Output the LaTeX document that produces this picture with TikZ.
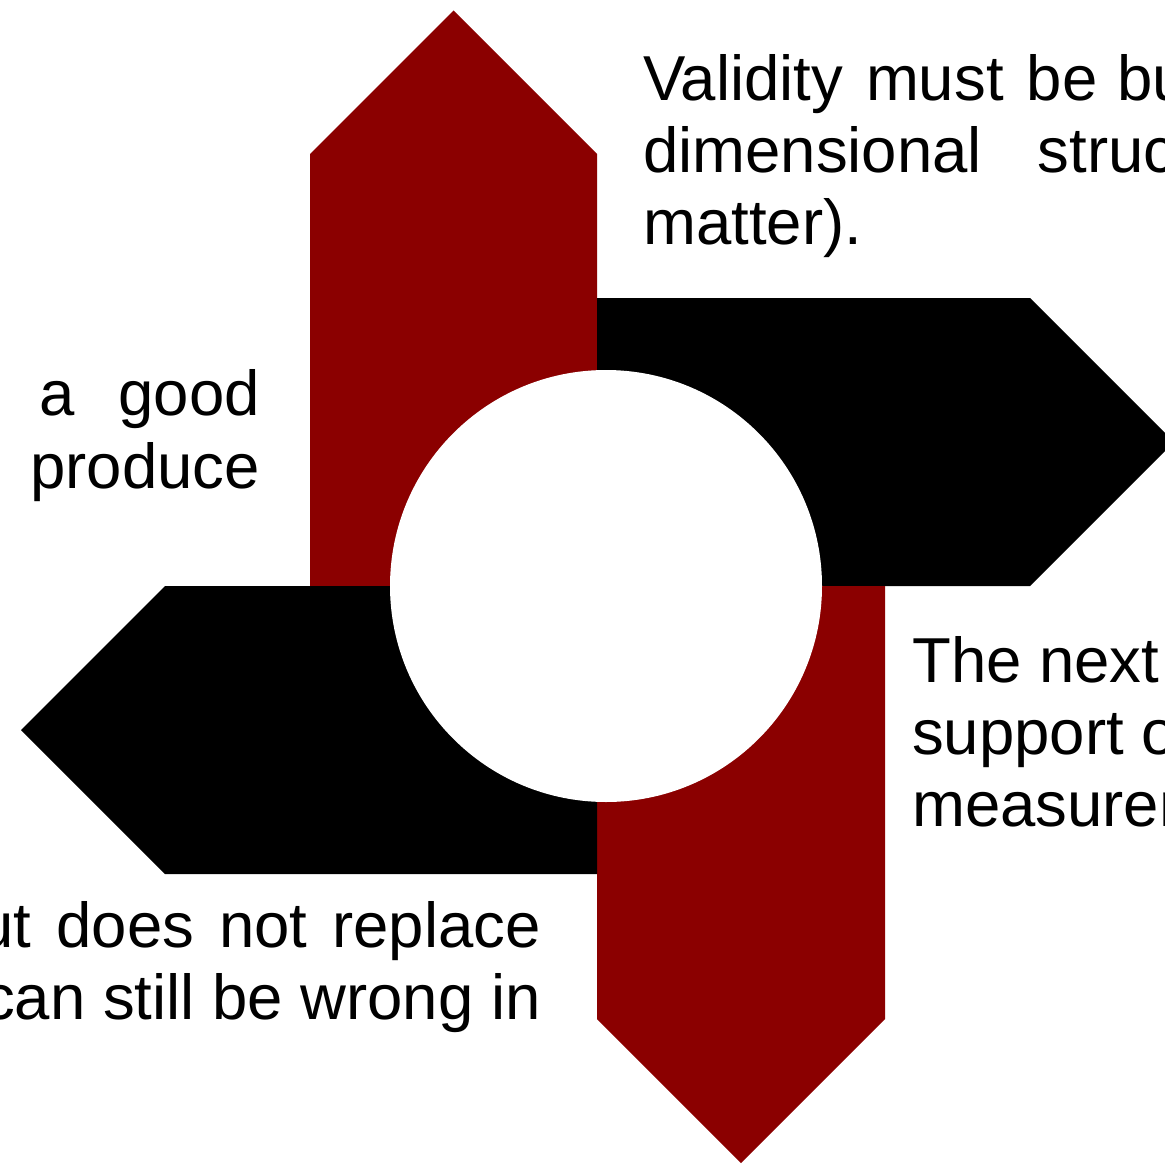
\documentclass[tikz,border=0pt]{standalone}
\usepackage{fontspec}
\setmainfont{Liberation Sans}
\definecolor{arrowred}{HTML}{8B0000}
\begin{document}
\begin{tikzpicture}[x=1pt,y=-1pt,
  redarrow/.style={fill=arrowred,draw=none},
  blackarrow/.style={fill=black,draw=none},
  hub/.style={fill=white,draw=none},
  txt/.style={font=\fontsize{63.5}{72}\selectfont,inner sep=0pt,text=black}]
\clip (0,0) rectangle (1165,1164);
% arrows
\fill[redarrow] (310,586) -- (310,154) -- (453.5,10.5) -- (597,154) -- (597,586) -- cycle;
\fill[blackarrow] (597,298) -- (1030,298) -- (1174,442) -- (1030,586) -- (597,586) -- cycle;
\fill[redarrow] (597,586) -- (885,586) -- (885,1019) -- (741,1163) -- (597,1019) -- cycle;
\fill[blackarrow] (597,586) -- (597,874) -- (165,874) -- (21,730) -- (165,586) -- cycle;
\fill[hub] (606,586) circle[radius=216];
% top-right text
\node[txt,anchor=base west] (t1) at (643,100) {Validity\hspace{23pt}must\hspace{23pt}be\hspace{20pt}built};
\node[txt,anchor=base west] (t2) at (643,172) {dimensional\hspace{56pt}structure};
\node[txt,anchor=base west] (t3) at (643,244) {matter).};
% right text
\node[txt,anchor=base west] (r1) at (912,682) {The next step};
\node[txt,anchor=base west] (r2) at (912,754) {support of};
\node[txt,anchor=base west] (r3) at (912,826) {measurement};
% left text
\node[txt,anchor=base east] (l1) at (260,415) {a\hspace{44pt}good};
\node[txt,anchor=base east] (l2) at (260,488) {produce};
% bottom-left text
\node[txt,anchor=base east] (b1) at (541,947) {but\hspace{25pt}does\hspace{25pt}not\hspace{25pt}replace};
\node[txt,anchor=base east] (b2) at (541,1019) {can still be wrong in};
\end{tikzpicture}
\end{document}
